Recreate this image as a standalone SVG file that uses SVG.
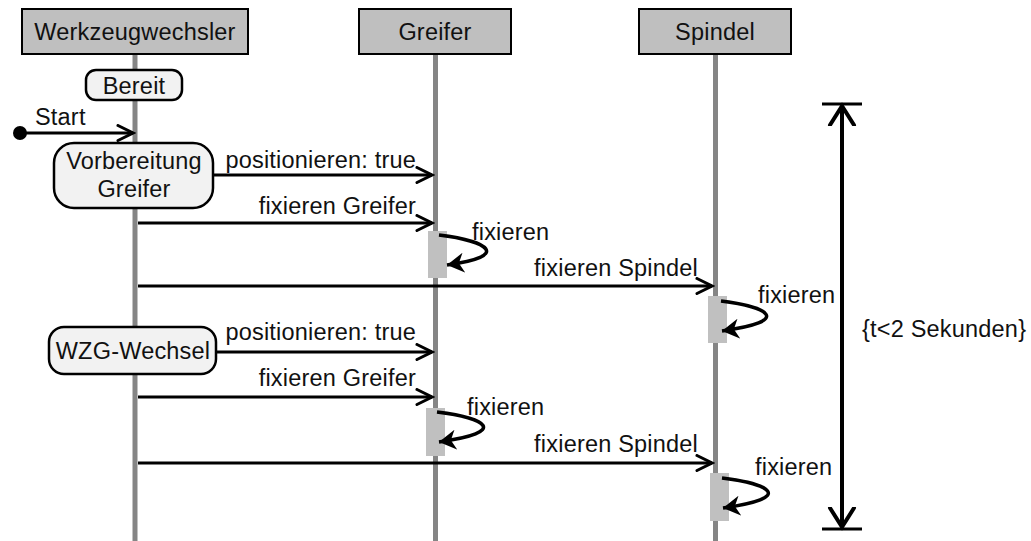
<svg xmlns="http://www.w3.org/2000/svg" width="1031" height="541" viewBox="0 0 1031 541">
  <style>
    text { font-family: "Liberation Sans", Arial, sans-serif; font-size: 23.5px; letter-spacing: 0.2px; fill: #111; }
    .mid { text-anchor: middle; }
    .end { text-anchor: end; }
    .head { fill: #bfbfbf; stroke: #000; stroke-width: 2; }
    .life { stroke: #858585; stroke-width: 5; fill: none; }
    .state { fill: #f2f2f2; stroke: #000; stroke-width: 2.5; }
    .act { fill: #c0c0c0; stroke: none; }
    .msg { stroke: #000; stroke-width: 3; fill: none; marker-end: url(#open); }
    .self { stroke: #000; stroke-width: 3.5; fill: none; marker-end: url(#solid); }
  </style>
  <defs>
    <marker id="open" markerUnits="userSpaceOnUse" markerWidth="20" markerHeight="20" refX="17" refY="9" orient="auto">
      <path d="M2,1.5 L17,9 L2,16.5" fill="none" stroke="#000" stroke-width="3" stroke-linecap="round" stroke-linejoin="miter"/>
    </marker>
    <marker id="solid" markerUnits="userSpaceOnUse" markerWidth="24" markerHeight="24" refX="17" refY="10" orient="auto">
      <path d="M0,0 L17,10 L0,20 L5,10 Z" fill="#000"/>
    </marker>
    <marker id="bar" markerUnits="userSpaceOnUse" markerWidth="30" markerHeight="30" refX="20" refY="15" orient="auto">
      <path d="M1,3 L20,15 L1,27" fill="none" stroke="#000" stroke-width="4" stroke-linecap="round"/>
    </marker>
  </defs>

  <!-- lifelines -->
  <g id="lifelines">
    <line class="life" x1="135" y1="54" x2="135" y2="541"/>
    <line class="life" x1="435.5" y1="54" x2="435.5" y2="541"/>
    <line class="life" x1="715.5" y1="54" x2="715.5" y2="541"/>
  </g>

  <!-- participants -->
  <g id="werkzeugwechsler">
    <rect class="head" x="22" y="9" width="226" height="45"/>
    <text class="mid" x="135" y="40">Werkzeugwechsler</text>
  </g>
  <g id="greifer">
    <rect class="head" x="359" y="9" width="152" height="45"/>
    <text class="mid" x="435" y="40">Greifer</text>
  </g>
  <g id="spindel">
    <rect class="head" x="639" y="9" width="152" height="45"/>
    <text class="mid" x="715" y="40">Spindel</text>
  </g>

  <!-- activations -->
  <g id="activations">
    <rect class="act" x="428" y="231" width="19" height="47"/>
    <rect class="act" x="708" y="296" width="19" height="47"/>
    <rect class="act" x="426" y="408" width="19" height="48"/>
    <rect class="act" x="710" y="473" width="19" height="48"/>
  </g>

  <!-- states on the Werkzeugwechsler lifeline -->
  <g id="state-bereit">
    <rect class="state" x="86" y="70" width="96" height="30" rx="10"/>
    <text class="mid" x="134" y="94">Bereit</text>
  </g>
  <g id="state-vorbereitung">
    <rect class="state" x="54" y="143" width="159" height="65" rx="20"/>
    <text class="mid" x="134" y="169">Vorbereitung</text>
    <text class="mid" x="134" y="197">Greifer</text>
  </g>
  <g id="state-wechsel">
    <rect class="state" x="49" y="327" width="167" height="47" rx="15"/>
    <text class="mid" x="133" y="359">WZG-Wechsel</text>
  </g>

  <!-- start point -->
  <g id="start">
    <circle cx="20" cy="133" r="7" fill="#000"/>
    <text x="35" y="125">Start</text>
  </g>

  <!-- messages -->
  <g id="connectors">
    <line class="msg" x1="20" y1="133" x2="133" y2="133"/>

    <line class="msg" x1="213" y1="175" x2="432" y2="175"/>
    <text class="end" x="416" y="168">positionieren: true</text>

    <line class="msg" x1="138" y1="223" x2="432" y2="223"/>
    <text class="end" x="416" y="214">fixieren Greifer</text>

    <path class="self" d="M439,235 C488,241 512,256 447,265"/>
    <text x="472" y="240">fixieren</text>

    <line class="msg" x1="138" y1="286" x2="712" y2="286"/>
    <text class="end" x="698" y="276">fixieren Spindel</text>

    <path class="self" d="M721,301 C769,307 793,321 722,331"/>
    <text x="758" y="303">fixieren</text>

    <line class="msg" x1="216" y1="352" x2="432" y2="352"/>
    <text class="end" x="416" y="340">positionieren: true</text>

    <line class="msg" x1="138" y1="397" x2="432" y2="397"/>
    <text class="end" x="416" y="386">fixieren Greifer</text>

    <path class="self" d="M437,412 C486,418 510,432 439,442"/>
    <text x="467" y="415">fixieren</text>

    <line class="msg" x1="138" y1="463" x2="712" y2="463"/>
    <text class="end" x="698" y="452">fixieren Spindel</text>

    <path class="self" d="M722,478 C771,484 795,498 723,508"/>
    <text x="755" y="475">fixieren</text>
  </g>

  <!-- duration constraint -->
  <g id="constraint">
    <line x1="822" y1="104" x2="862" y2="104" stroke="#000" stroke-width="3"/>
    <line x1="822" y1="529" x2="862" y2="529" stroke="#000" stroke-width="3"/>
    <line x1="842" y1="316" x2="842" y2="106" stroke="#000" stroke-width="4" marker-end="url(#bar)"/>
    <line x1="842" y1="316" x2="842" y2="527" stroke="#000" stroke-width="4" marker-end="url(#bar)"/>
    <text x="862" y="337">{t&lt;2 Sekunden}</text>
  </g>
</svg>
